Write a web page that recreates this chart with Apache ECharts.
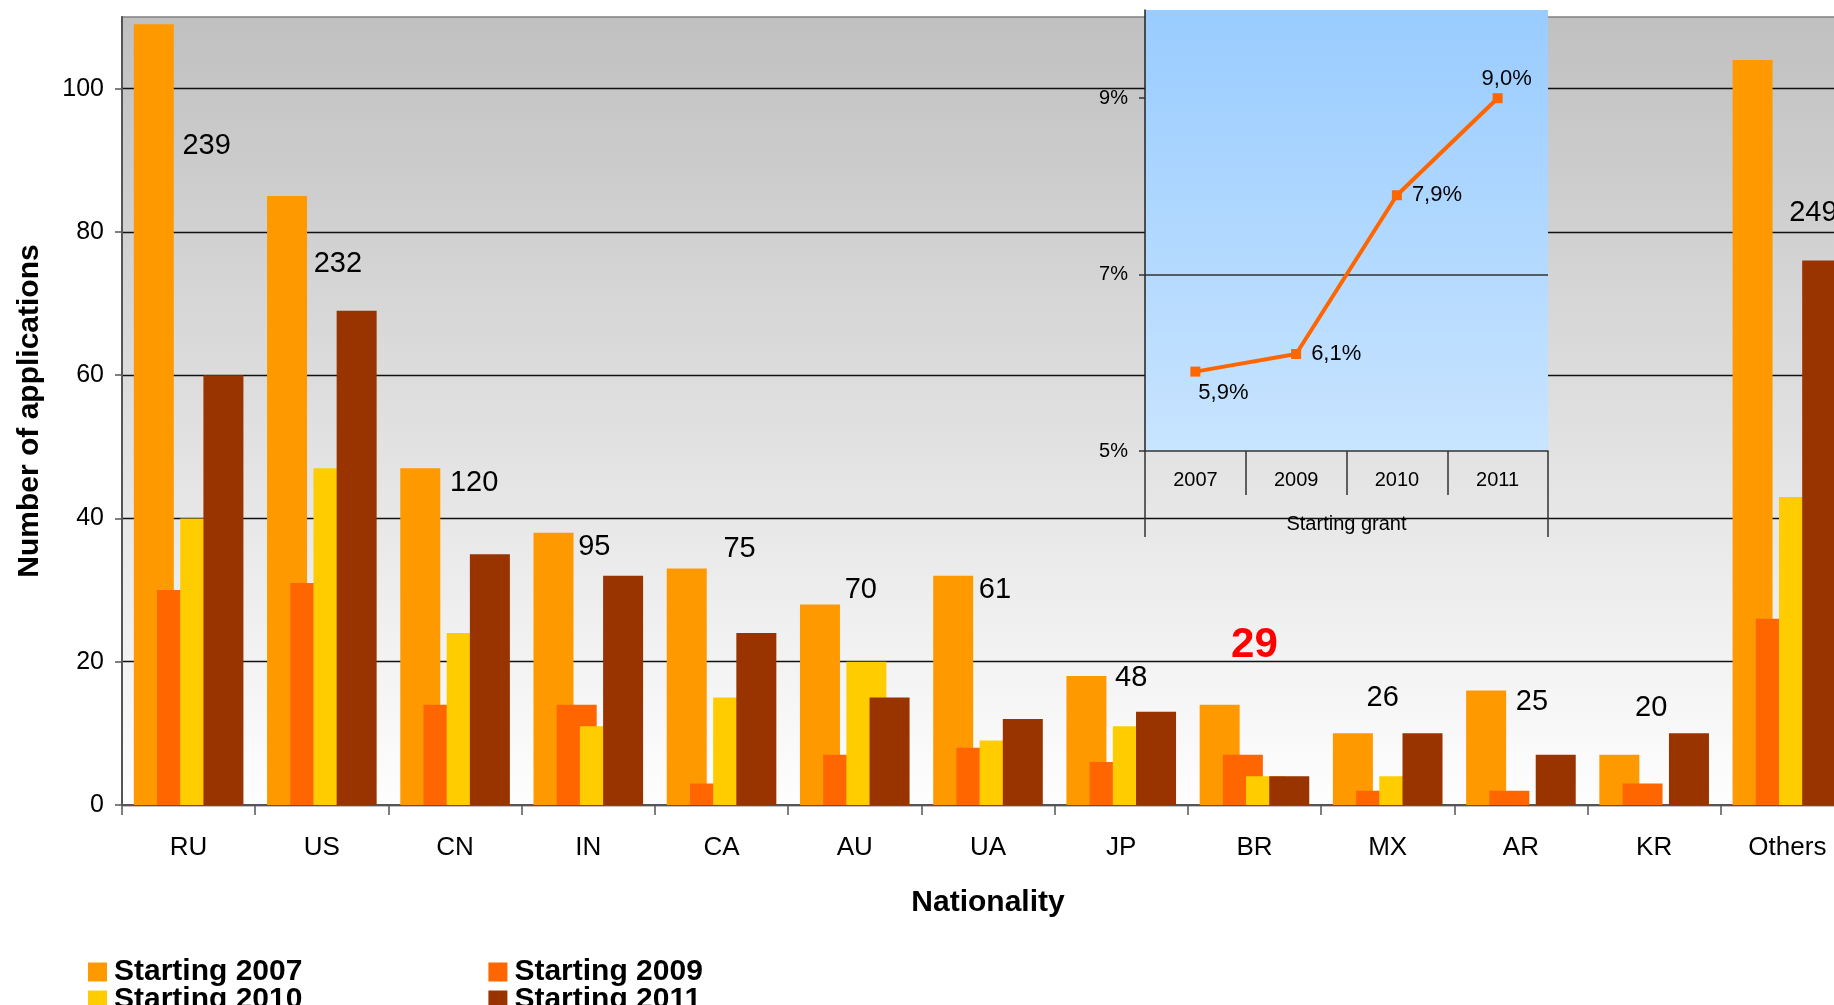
<!DOCTYPE html>
<html>
<head>
<meta charset="utf-8">
<title>Applications by nationality</title>
<script src="https://cdn.jsdelivr.net/npm/echarts@6/dist/echarts.min.js"></script>
<style>
  html, body { margin: 0; padding: 0; background: #fff; }
  #main { width: 1834px; height: 1005px; }
</style>
</head>
<body>
<div id="main"></div>
<script>
// number of applications per nationality, one array per call
var nationalities = ['RU', 'US', 'CN', 'IN', 'CA', 'AU', 'UA', 'JP', 'BR', 'MX', 'AR', 'KR', 'Others']
var starting2007 = [109, 85, 47, 38, 33, 28, 32, 18, 14, 10, 16, 7, 104]
var starting2009 = [30, 31, 14, 14, 3, 7, 8, 6, 7, 2, 2, 3, 26]
var starting2010 = [40, 47, 24, 11, 15, 20, 9, 11, 4, 4, 0, 0, 43]
var starting2011 = [60, 69, 35, 32, 24, 15, 12, 13, 4, 10, 7, 10, 76]
var seriesNames = ['Starting 2007', 'Starting 2009', 'Starting 2010', 'Starting 2011']

// inset: share for the starting grant (%)
var grantYears = ['2007', '2009', '2010', '2011']
var grantShare = [5.9, 6.1, 7.9, 9.0]

// totals shown above each group
var totals = nationalities.map(function (n, i) {
  return starting2007[i] + starting2009[i] + starting2010[i] + starting2011[i]
})

// where the total labels sit (axis units) and their sideways shift (px)
var totalLabelY = [92, 75.5, 45, 36, 35.7, 30, 30, 17.7, 22.3, 15, 14.4, 13.5, 82.6]
var totalLabelDx = [18, 16, 19, 6, 18, 6, 7, 10, 0, -5, 11, -3, 26]
var highlightIndex = 8 // BR

var shareLabelPlacement = [
  { position: 'bottom', offset: [28, 0], distance: 5 },
  { position: 'right', distance: 10 },
  { position: 'right', distance: 10 },
  { position: 'top', offset: [9, 0], distance: 3 }
]

var colors = ['#FF9900', '#FF6600', '#FFCC00', '#993300']
var font = "'Liberation Sans', Arial, sans-serif"

var chart = echarts.init(document.getElementById('main'))

function barSeries (name, data, color) {
  return {
    name: name,
    type: 'bar',
    xAxisIndex: 0,
    yAxisIndex: 0,
    data: data,
    barWidth: 40,
    barGap: '-42%',
    itemStyle: { color: color },
    silent: true
  }
}

// two legend rows, the second one runs off the bottom edge like the original
function legendRow (top, names) {
  return {
    orient: 'horizontal',
    left: 88,
    top: top,
    padding: 0,
    itemGap: 186,
    itemWidth: 19,
    itemHeight: 19,
    icon: 'rect',
    selectedMode: false,
    data: names,
    textStyle: { fontFamily: font, fontSize: 30, fontWeight: 'bold', color: '#000', padding: [0, 0, 0, 2] }
  }
}

chart.setOption({
  animation: false,
  textStyle: { fontFamily: font },
  legend: [
    legendRow(957, [seriesNames[0], seriesNames[1]]),
    legendRow(985, [seriesNames[2], seriesNames[3]])
  ],
  grid: [
    {
      left: 122, top: 17, width: 1732, height: 788,
      outerBoundsMode: 'none',
      containLabel: false,
      show: true,
      borderColor: '#808080',
      borderWidth: 1.5,
      backgroundColor: new echarts.graphic.LinearGradient(0, 0, 0, 1, [
        { offset: 0, color: '#C0C0C0' },
        { offset: 1, color: '#FEFEFE' }
      ])
    },
    {
      left: 1145, top: 10, width: 403, height: 441,
      outerBoundsMode: 'none',
      containLabel: false,
      show: true,
      borderWidth: 0,
      z: 5,
      backgroundColor: new echarts.graphic.LinearGradient(0, 0, 0, 1, [
        { offset: 0, color: '#99CCFF' },
        { offset: 1, color: '#C8E4FF' }
      ])
    }
  ],
  xAxis: [
    {
      type: 'category',
      gridIndex: 0,
      data: nationalities,
      name: 'Nationality',
      nameLocation: 'middle',
      nameGap: 83,
      nameTextStyle: { fontSize: 30, fontWeight: 'bold', color: '#000' },
      axisLine: { show: true, lineStyle: { color: '#555', width: 2 } },
      axisTick: { show: true, length: 10, interval: 0, lineStyle: { color: '#555', width: 1.5 } },
      axisLabel: { fontSize: 26, color: '#000', margin: 30, interval: 0 }
    },
    {
      type: 'category',
      gridIndex: 1,
      position: 'bottom',
      data: grantYears,
      z: 6,
      axisLine: { show: true, lineStyle: { color: '#333', width: 1.5 } },
      axisTick: { show: true, length: 44, interval: 0, lineStyle: { color: '#333', width: 1.5 } },
      axisLabel: { fontSize: 20, color: '#000', margin: 19 }
    },
    {
      type: 'category',
      gridIndex: 1,
      position: 'bottom',
      data: ['Starting grant'],
      z: 6,
      axisLine: { show: false },
      axisTick: { show: true, length: 86, interval: 0, lineStyle: { color: '#333', width: 1.5 } },
      axisLabel: { fontSize: 20, color: '#000', margin: 63 }
    }
  ],
  yAxis: [
    {
      type: 'value',
      gridIndex: 0,
      min: 0,
      max: 110,
      interval: 20,
      name: 'Number of applications',
      nameLocation: 'middle',
      nameGap: 77,
      nameTextStyle: { fontSize: 30, fontWeight: 'bold', color: '#000' },
      axisLine: { show: true, lineStyle: { color: '#555', width: 2 } },
      axisTick: { show: true, length: 7, lineStyle: { color: '#555', width: 1.5 } },
      axisLabel: { fontSize: 25, color: '#000', margin: 18, showMaxLabel: false },
      splitLine: { show: true, showMaxLine: false, lineStyle: { color: '#111', width: 1.3 } }
    },
    {
      type: 'value',
      gridIndex: 1,
      min: 5,
      max: 10,
      interval: 2,
      z: 6,
      axisLine: { show: true, lineStyle: { color: '#222', width: 1.5 } },
      axisTick: { show: true, length: 6, customValues: [5, 7, 9], lineStyle: { color: '#333', width: 1.5 } },
      axisLabel: {
        fontSize: 20, color: '#000', margin: 17, showMaxLabel: false,
        formatter: function (v) { return v + '%' }
      },
      splitLine: { show: true, showMaxLine: false, showMinLine: false, lineStyle: { color: '#333', width: 1.5 } }
    }
  ],
  series: [
    barSeries(seriesNames[0], starting2007, colors[0]),
    barSeries(seriesNames[1], starting2009, colors[1]),
    barSeries(seriesNames[2], starting2010, colors[2]),
    barSeries(seriesNames[3], starting2011, colors[3]),
    {
      name: 'Total',
      type: 'scatter',
      xAxisIndex: 0,
      yAxisIndex: 0,
      z: 3,
      silent: true,
      symbolSize: 1,
      itemStyle: { color: 'rgba(0,0,0,0)', opacity: 1 },
      data: totals.map(function (t, i) {
        var label = { offset: [totalLabelDx[i], 0] }
        if (i === highlightIndex) {
          label.fontSize = 42
          label.fontWeight = 'bold'
          label.color = '#FF0000'
        }
        return { value: [i, totalLabelY[i], t], label: label }
      }),
      label: {
        show: true,
        position: 'inside',
        fontSize: 29,
        color: '#000',
        opacity: 1,
        textBorderWidth: 0,
        formatter: function (p) { return p.value[2] }
      }
    },
    {
      name: 'Starting grant share',
      type: 'line',
      xAxisIndex: 1,
      yAxisIndex: 1,
      z: 8,
      silent: true,
      symbol: 'rect',
      symbolSize: 10,
      lineStyle: { color: '#FF6600', width: 4 },
      itemStyle: { color: '#FF6600' },
      data: grantShare.map(function (v, i) {
        return { value: v, label: shareLabelPlacement[i] }
      }),
      label: {
        show: true,
        fontSize: 22,
        color: '#000',
        formatter: function (p) { return p.value.toFixed(1).replace('.', ',') + '%' }
      }
    }
  ]
})
</script>
</body>
</html>
